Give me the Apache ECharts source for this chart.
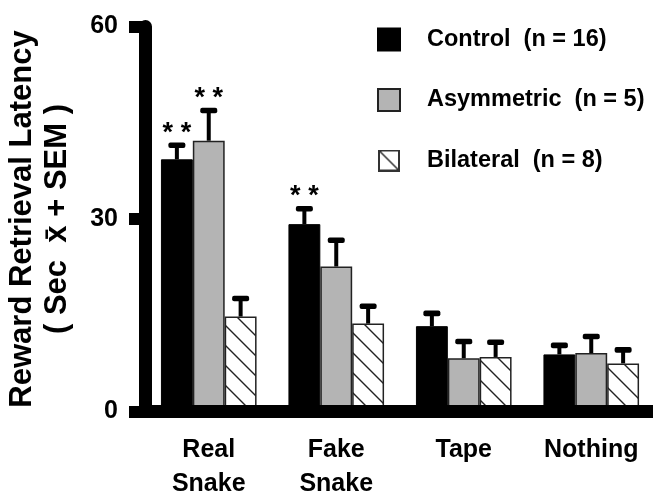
<!DOCTYPE html>
<html>
<head>
<meta charset="utf-8">
<script src="https://cdn.jsdelivr.net/npm/echarts@6/dist/echarts.min.js"></script>
<style>
  html, body { margin: 0; padding: 0; background: #fff; }
  #chart { width: 653px; height: 494px; }
</style>
</head>
<body>
<div id="chart"></div>
<script>
const categories = ['Real\nSnake', 'Fake\nSnake', 'Tape', 'Nothing'];
const groupNames = ['Control', 'Asymmetric', 'Bilateral'];
const groupN = [16, 5, 8];
const controlMean = [39.3, 29.2, 13.3, 8.9];
const asymMean = [42.2, 22.6, 8.3, 9.1];
const bilatMean = [14.8, 13.7, 8.5, 7.5];
const controlSem = [2.2, 2.4, 2.0, 1.4];
const asymSem = [4.7, 4.1, 2.6, 2.6];
const bilatSem = [2.8, 2.7, 2.3, 2.1];
const controlSig = ['**', '**', '', ''];
const asymSig = ['**', '', '', ''];
const bilatSig = ['', '', '', ''];
const yMin = 0, yMax = 60, yStep = 30;

const font = 'Liberation Sans, Arial, sans-serif';

// diagonal hatch tile for the bilateral bars
function hatchTile(size) {
  const c = document.createElement('canvas');
  c.width = c.height = size;
  const ctx = c.getContext('2d');
  ctx.fillStyle = '#fff';
  ctx.fillRect(0, 0, size, size);
  ctx.strokeStyle = '#222';
  ctx.lineWidth = 1.4;
  ctx.beginPath();
  ctx.moveTo(-2, -2); ctx.lineTo(size + 2, size + 2);
  ctx.moveTo(size - 3, -3); ctx.lineTo(size + 3, 3);
  ctx.moveTo(-3, size - 3); ctx.lineTo(3, size + 3);
  ctx.stroke();
  return c;
}

function hatchIcon() {
  const c = document.createElement('canvas');
  c.width = c.height = 22;
  const ctx = c.getContext('2d');
  ctx.fillStyle = '#fff';
  ctx.fillRect(0, 0, 22, 22);
  ctx.strokeStyle = '#333';
  ctx.lineWidth = 2;
  ctx.strokeRect(1, 1, 20, 20);
  ctx.lineWidth = 1.6;
  ctx.beginPath();
  ctx.moveTo(1, 1); ctx.lineTo(21, 21);
  ctx.stroke();
  return 'image://' + c.toDataURL();
}

function errSeries(k, means, sems, sig) {
  return {
    type: 'custom',
    name: groupNames[k] + ' SEM',
    z: 4,
    data: means.map((m, i) => [i, m, m + sems[i]]),
    encode: { x: 0, y: [1, 2] },
    renderItem: function (params, api) {
      const band = api.size([1, 0])[0];
      const bw = band * 0.75 / 3;
      const x = api.coord([api.value(0), 0])[0] + (k - 1) * bw;
      const yb = api.coord([api.value(0), api.value(1)])[1];
      const yt = api.coord([api.value(0), api.value(2)])[1];
      const children = [
        { type: 'line', shape: { x1: x, y1: yb, x2: x, y2: yt }, style: { stroke: '#000', lineWidth: 4 } },
        { type: 'rect', shape: { x: x - 8.5, y: yt - 2.8, width: 17, height: 5.6, r: 2 }, style: { fill: '#000' } }
      ];
      const s = sig[params.dataIndex];
      if (s) {
        children.push({
          type: 'text', x: x, y: yt - 12,
          style: { text: s.split('').join(' '), fill: '#000', font: 'bold 27px ' + font, align: 'center', verticalAlign: 'middle' }
        });
      }
      return { type: 'group', children: children };
    }
  };
}

const chart = echarts.init(document.getElementById('chart'));
chart.setOption({
  backgroundColor: '#fff',
  animation: false,
  grid: { left: 145, right: -2, top: 26.5, bottom: 82.5, outerBoundsMode: 'none' },
  legend: {
    orient: 'vertical',
    left: 372,
    top: 22.5,
    itemWidth: 22,
    itemHeight: 22,
    itemGap: 36.5,
    selectedMode: false,
    data: [
      { name: 'Control', icon: 'rect' },
      { name: 'Asymmetric', icon: 'rect' },
      { name: 'Bilateral', icon: hatchIcon() }
    ],
    formatter: function (name) {
      return name + '  (n = ' + groupN[groupNames.indexOf(name)] + ')';
    },
    textStyle: { fontSize: 23.5, fontWeight: 'bold', color: '#000', fontFamily: font, padding: [0, 0, 0, 22] }
  },
  xAxis: {
    type: 'category',
    data: categories,
    z: 10,
    axisLine: { lineStyle: { color: '#000', width: 13 } },
    axisTick: { show: false },
    axisLabel: { margin: 22, fontSize: 25, fontWeight: 'bold', color: '#000', fontFamily: font, lineHeight: 34 }
  },
  yAxis: {
    type: 'value',
    min: yMin,
    max: yMax,
    interval: yStep,
    z: 10,
    name: 'Reward Retrieval Latency\n( Sec  x\u0304 + SEM )',
    nameLocation: 'middle',
    nameRotate: 90,
    nameGap: 70,
    nameTextStyle: { fontSize: 31, fontWeight: 'bold', color: '#000', fontFamily: font, lineHeight: 35 },
    splitLine: { show: false },
    axisLine: { show: true, lineStyle: { color: '#000', width: 13 } },
    axisTick: { show: true, length: 16, lineStyle: { color: '#000', width: 12 } },
    axisLabel: { margin: 27, fontSize: 25, fontWeight: 'bold', color: '#000', fontFamily: font }
  },
  series: [
    {
      type: 'bar', name: 'Control', data: controlMean,
      barGap: '0%', barCategoryGap: '25%',
      itemStyle: { color: '#000', borderColor: '#000', borderWidth: 1 }
    },
    {
      type: 'bar', name: 'Asymmetric', data: asymMean,
      itemStyle: { color: '#b4b4b4', borderColor: '#222', borderWidth: 1.5 }
    },
    {
      type: 'bar', name: 'Bilateral', data: bilatMean,
      itemStyle: { color: { image: hatchTile(20), repeat: 'repeat' }, borderColor: '#222', borderWidth: 1.5 }
    },
    errSeries(0, controlMean, controlSem, controlSig),
    errSeries(1, asymMean, asymSem, asymSig),
    errSeries(2, bilatMean, bilatSem, bilatSig)
  ]
});
</script>
</body>
</html>
